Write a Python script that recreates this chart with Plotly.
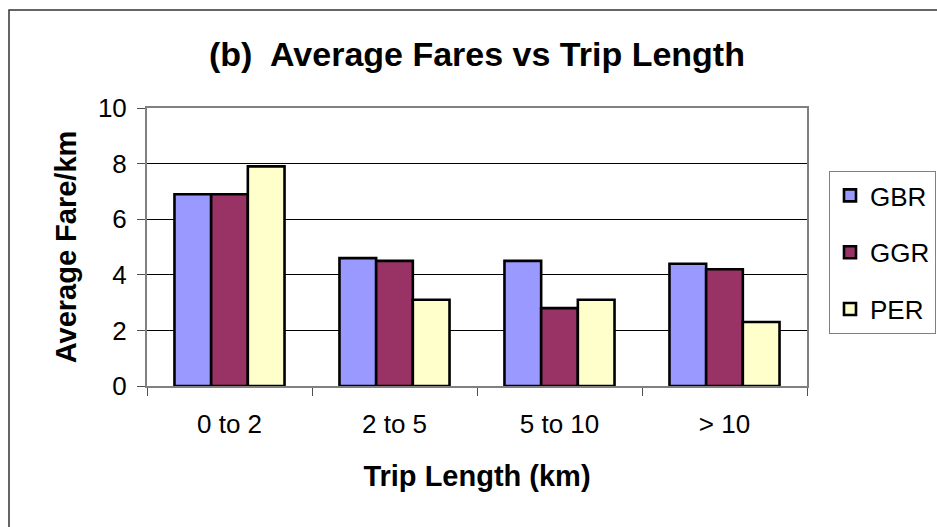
import plotly.graph_objects as go

# Trip length bands and average fare per km for each service
categories = ["0 to 2", "2 to 5", "5 to 10", "> 10"]
gbr = [6.9, 4.6, 4.5, 4.4]
ggr = [6.9, 4.5, 2.8, 4.2]
per = [7.9, 3.1, 3.1, 2.3]
series_names = ["GBR", "GGR", "PER"]
series_colors = ["#9999FF", "#993366", "#FFFFCC"]

FONT = "Liberation Sans, Arial, sans-serif"

fig = go.Figure()
for name, vals, color in zip(series_names, [gbr, ggr, per], series_colors):
    fig.add_trace(go.Bar(
        x=categories, y=vals, name=name, legendgroup=name,
        marker=dict(color=color, line=dict(color="black", width=2.6)),
    ))

W, H = 937, 527
L, R, T, B = 147, 130, 108, 141
plot_w = W - L - R
plot_h = H - T - B

fig.update_layout(
    width=W, height=H,
    margin=dict(l=L, r=R, t=T, b=B, autoexpand=False),
    paper_bgcolor="white", plot_bgcolor="white",
    font=dict(family=FONT, color="black", size=26),
    barmode="group", bargap=0.333, bargroupgap=0,
    title=dict(
        text="<b>(b)\u00a0 Average Fares vs Trip Length</b>",
        font=dict(size=34, family=FONT, color="black"),
        x=(477 / W), xanchor="center", y=1 - 54 / H, yanchor="middle",
    ),
    showlegend=True,
    legend=dict(
        x=(829 - L) / plot_w, y=(H - B - 171) / plot_h,
        xanchor="left", yanchor="top",
        bordercolor="#808080", borderwidth=1, bgcolor="white",
        font=dict(size=26, family=FONT, color="black"),
        traceorder="grouped", tracegroupgap=20,
    ),
    xaxis=dict(
        showline=True, linecolor="#808080", linewidth=2, mirror=True,
        ticks="outside", tickson="boundaries", ticklen=8, tickcolor="#505050",
        tickwidth=1, showgrid=False, ticklabelstandoff=14,
        tickfont=dict(size=26, family=FONT, color="black"),
        title=dict(text="<b>Trip Length (km)</b>",
                   font=dict(size=29, family=FONT, color="black"), standoff=27),
    ),
    yaxis=dict(
        range=[0, 10], dtick=2, tick0=0,
        showline=True, linecolor="#808080", linewidth=2, mirror=True,
        ticks="outside", ticklen=8, tickcolor="#505050", tickwidth=1,
        showgrid=True, gridcolor="black", gridwidth=1, zeroline=False,
        ticklabelstandoff=5,
        tickfont=dict(size=26, family=FONT, color="black"),
        title=dict(text="<b>Average Fare/km</b>",
                   font=dict(size=29, family=FONT, color="black"), standoff=13),
    ),
)

# Outer chart frame, open at the right and bottom edges of the page
fig.add_shape(
    type="rect", xref="paper", yref="paper",
    x0=(9 - L) / plot_w, x1=(W + 20 - L) / plot_w,
    y0=(H - B - (H + 20)) / plot_h, y1=(H - B - 10) / plot_h,
    line=dict(color="#333333", width=1.5), fillcolor="rgba(0,0,0,0)",
    layer="below",
)

fig.write_html("out.html")
